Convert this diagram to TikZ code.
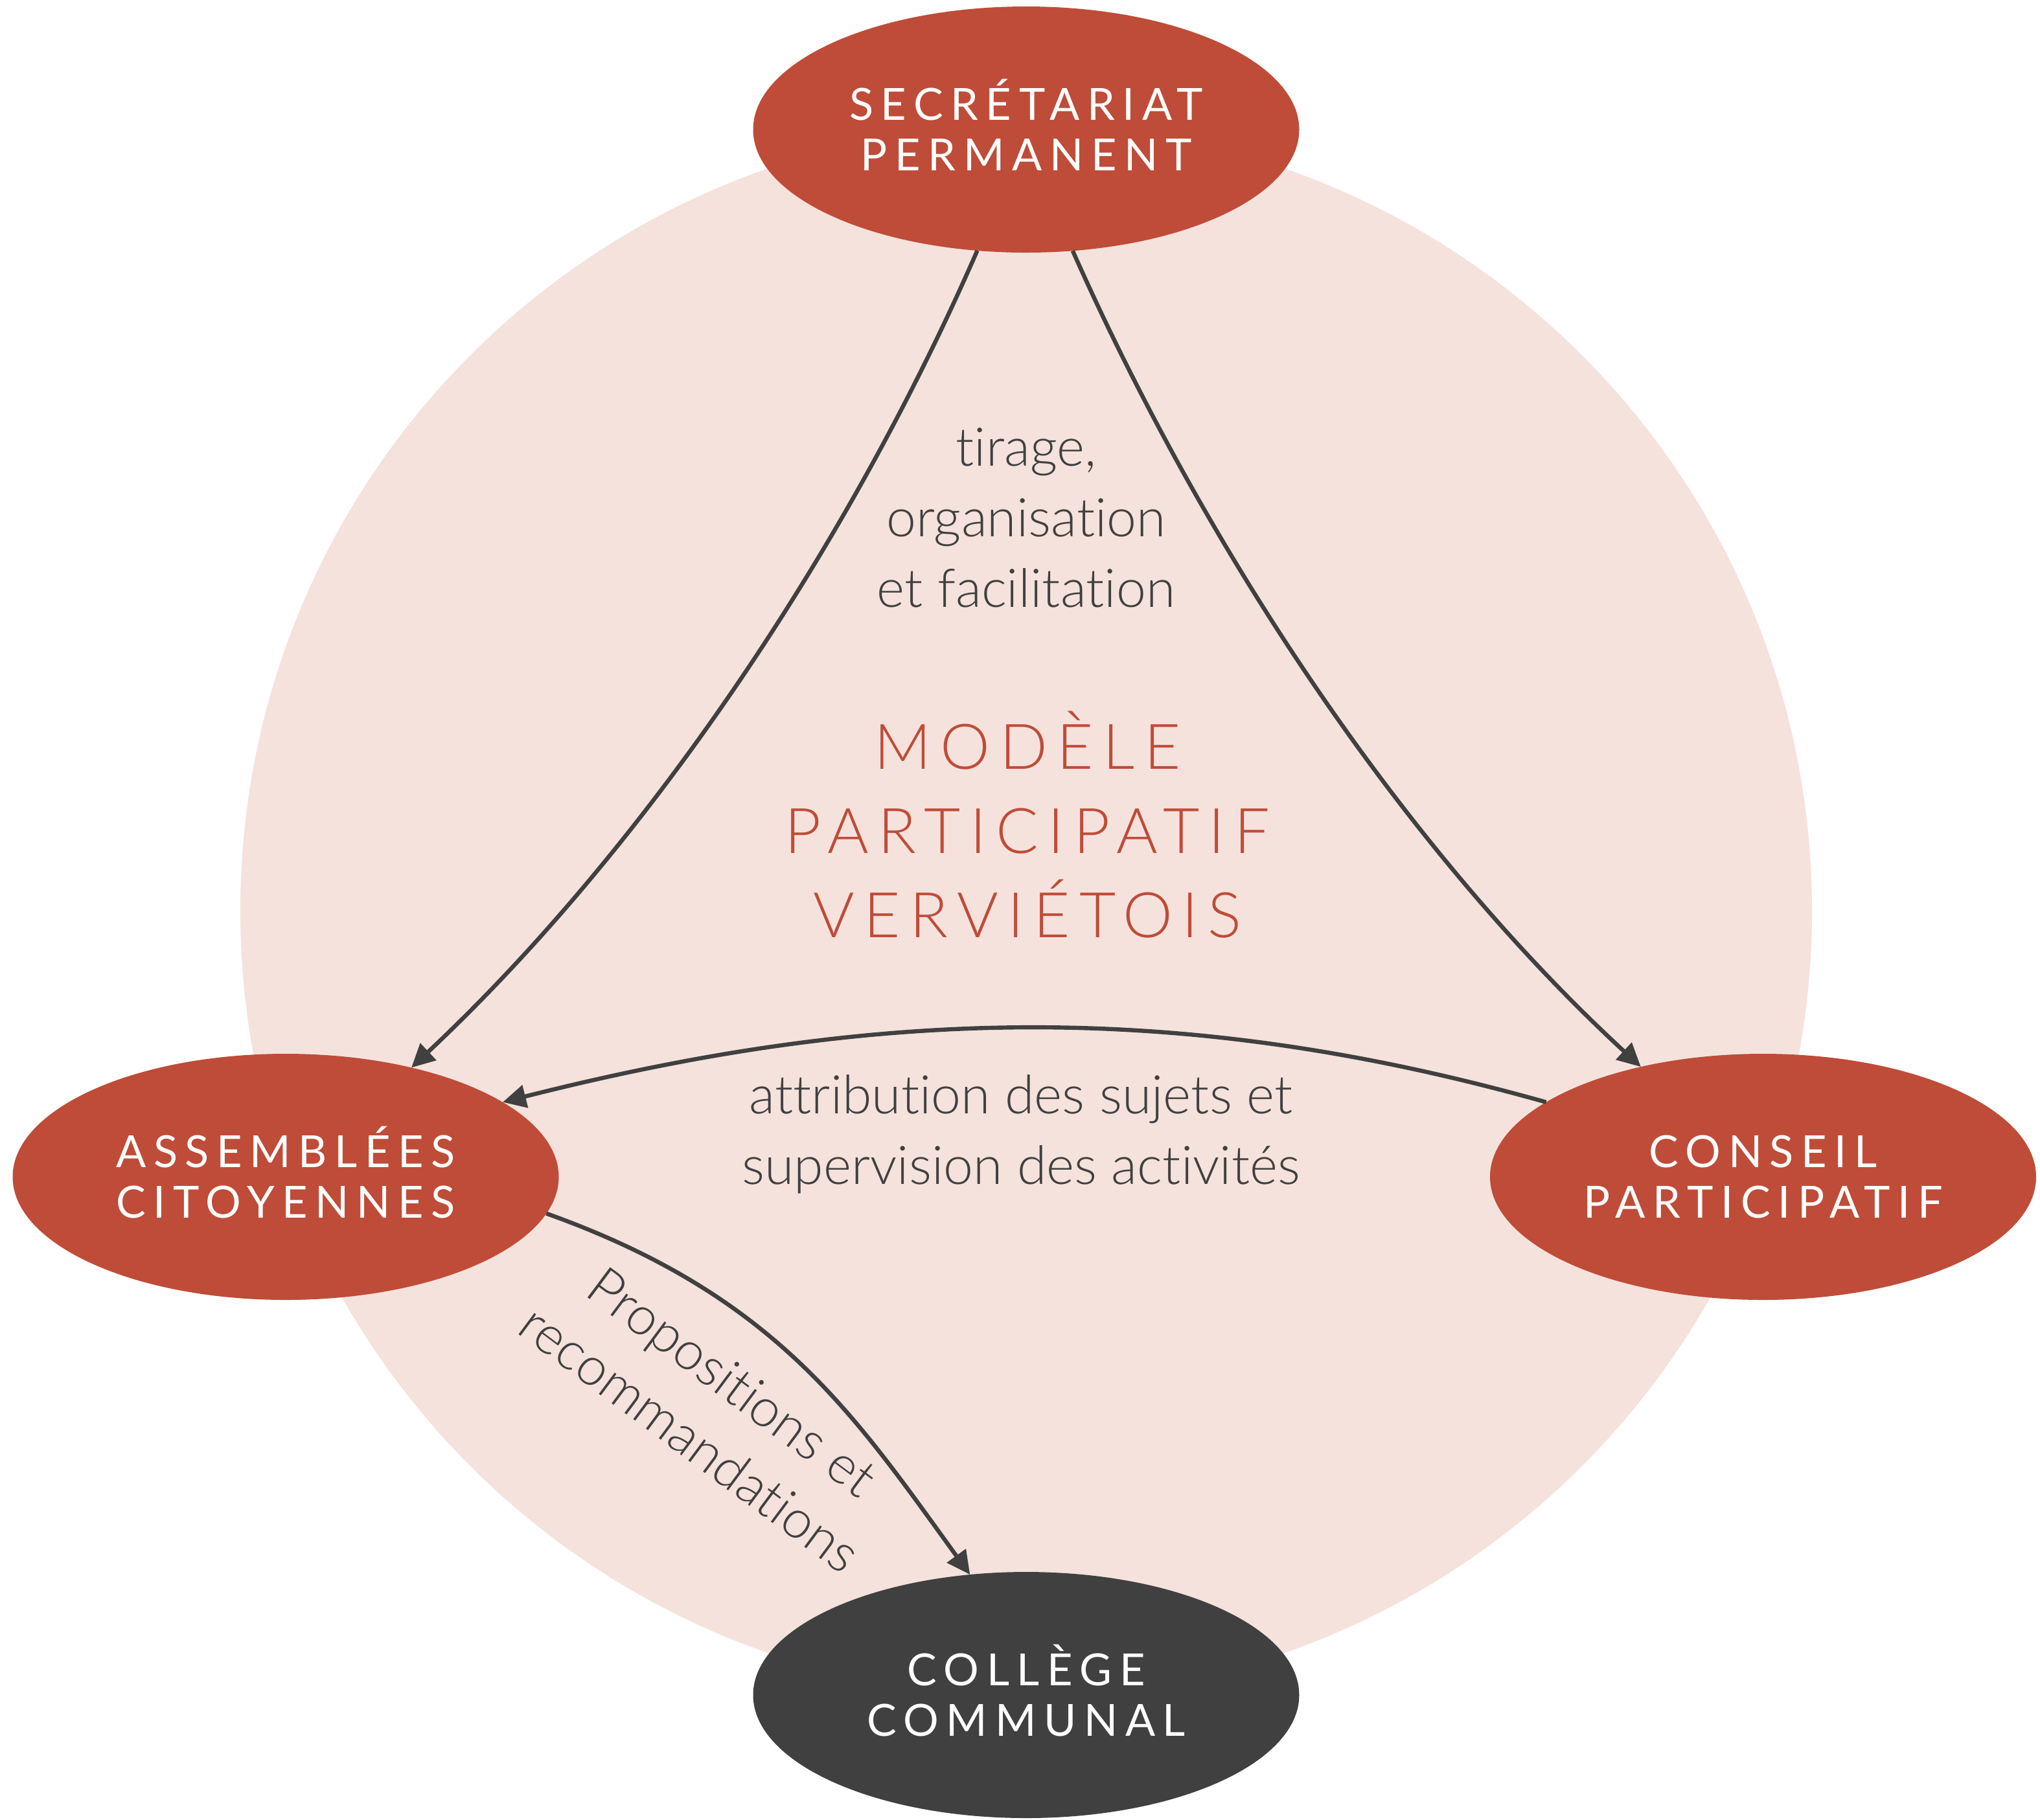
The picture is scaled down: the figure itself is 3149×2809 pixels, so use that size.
\documentclass[tikz,border=0pt]{standalone}
\usepackage{fontspec}
\setmainfont{Lato}[Ligatures=NoCommon]
\newfontfamily\lightfont{Lato Light}[Ligatures=NoCommon]
\usetikzlibrary{shapes.geometric,arrows.meta}
\definecolor{brick}{RGB}{191,76,56}
\definecolor{blush}{RGB}{245,226,221}
\definecolor{ink}{RGB}{64,64,64}
\newcommand\capH{\rule{0pt}{\fontcharht\font`H}}
\newcommand\sm[1]{\smash{#1}}
\begin{document}
\begin{tikzpicture}[x=0.25pt,y=-0.25pt,
  organ/.style={ellipse, fill=brick, text=white, minimum width=210.75pt, minimum height=95pt,
    inner sep=0pt, outer sep=0pt, align=center,
    font=\fontsize{17.1}{19.5}\selectfont\addfontfeature{LetterSpace=17}},
  flow/.style={draw=ink, line width=1.6pt, -{Triangle[length=9pt,width=8.75pt]}},
  lbl/.style={text=ink, align=center, inner sep=0pt, font=\lightfont\fontsize{20.6}{27.25}\selectfont},
  title/.style={text=brick, align=center, inner sep=0pt,
    font=\lightfont\fontsize{24.3}{32.5}\selectfont\addfontfeature{LetterSpace=15}}]
\useasboundingbox (0,0) rectangle (3149,2809);
\fill[blush] (1584,1406) circle[radius=303.25pt];

\node[organ] (S) at (1584,200) {\capH\sm{SECR\'ETARIAT}\\\sm{PERMANENT}};
\node[organ] (A) at (441,1817) {\capH\sm{ASSEMBL\'EES}\\\sm{CITOYENNES}};
\node[organ] (C) at (2721.5,1817) {\capH\sm{CONSEIL}\\\sm{PARTICIPATIF}};
\node[organ, fill=ink] (K) at (1584,2617) {\capH\sm{COLL\`EGE}\\\sm{COMMUNAL}};

\node[title] (T) at (1586,1283.5) {\capH\sm{MOD\`ELE}\\\sm{PARTICIPATIF}\\\sm{VERVI\'ETOIS}};

\node[lbl] (L1) at (1584,799.5) {\capH\sm{tirage,}\\\sm{organisation}\\\sm{et facilitation}};
\node[lbl] (L2) at (1576,1744.5) {\capH\sm{attribution des sujets et}\\\sm{supervision des activit\'es}};
\node[lbl, rotate=-36.7] (L3) at (1098,2177) {\capH\sm{Propositions et}\\\sm{recommandations}};

\draw[flow] (S.248) .. controls (1308.5,846.5) and (998,1307.5) .. (A.41.8);
\draw[flow] (S.291.75) .. controls (1859.5,846.5) and (2165,1307.5) .. (C.138.1);
\draw[flow] (C.161.4) .. controls (1817,1541) and (1346,1557) .. (A.19.3);
\draw[flow] (A.-8.37) .. controls (1200.7,2001) and (1320,2187) .. (K.115.7);
\end{tikzpicture}
\end{document}
